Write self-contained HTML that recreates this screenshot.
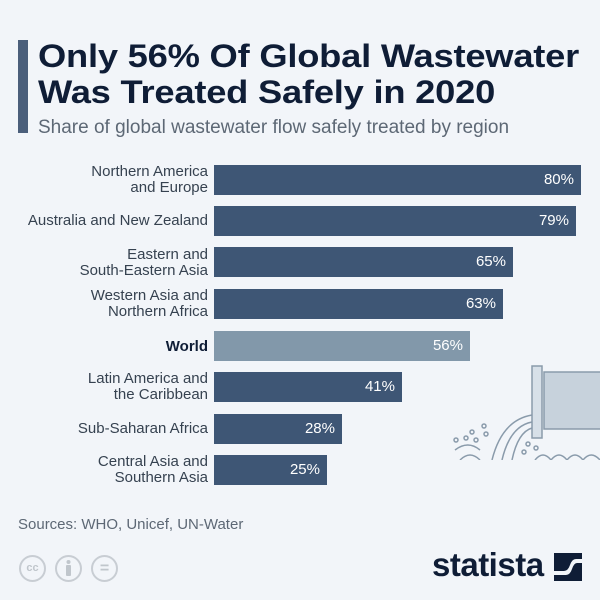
<!DOCTYPE html>
<html><head><meta charset="utf-8"><style>
*{margin:0;padding:0;box-sizing:border-box}
body{width:600px;height:600px;background:#f2f5f9;position:relative;overflow:hidden;font-family:"Liberation Sans",sans-serif}
.abs{position:absolute}
.t{left:38px;color:#0f1d36;font-weight:bold;font-size:32px;letter-spacing:-0.2px;line-height:38px;transform:scaleX(1.135);transform-origin:left center;white-space:nowrap}
.lab{position:absolute;right:392px;text-align:right;color:#364250;font-size:15px;line-height:16px;width:230px}
.bar{position:absolute;left:214px;height:30px;background:#3e5675;color:#fff;font-size:15px;text-align:right;padding-right:7px;line-height:30px}
</style></head><body>
<div class="abs" style="left:18px;top:40px;width:10px;height:93px;background:#4b5f7b"></div>
<div class="abs t" style="top:37px">Only 56% Of Global Wastewater</div>
<div class="abs t" style="top:73px">Was Treated Safely in 2020</div>
<div class="abs" style="left:38px;top:117px;font-size:19px;color:#5d6875;white-space:nowrap">Share of global wastewater flow safely treated by region</div>

<div class="lab" style="top:164px">Northern America<br>and Europe</div>
<div class="bar" style="top:165px;width:367px">80%</div>
<div class="lab" style="top:213px">Australia and New Zealand</div>
<div class="bar" style="top:206px;width:362px">79%</div>
<div class="lab" style="top:247px">Eastern and<br>South-Eastern Asia</div>
<div class="bar" style="top:247px;width:299px">65%</div>
<div class="lab" style="top:288px">Western Asia and<br>Northern Africa</div>
<div class="bar" style="top:289px;width:289px">63%</div>
<div class="lab" style="top:339px;font-weight:bold;color:#0f1d36">World</div>
<div class="bar" style="top:331px;width:256px;background:#8298aa">56%</div>
<div class="lab" style="top:371px">Latin America and<br>the Caribbean</div>
<div class="bar" style="top:372px;width:188px">41%</div>
<div class="lab" style="top:421px">Sub-Saharan Africa</div>
<div class="bar" style="top:414px;width:128px">28%</div>
<div class="lab" style="top:454px">Central Asia and<br>Southern Asia</div>
<div class="bar" style="top:455px;width:113px">25%</div>

<svg class="abs" style="left:440px;top:360px" width="160" height="100" viewBox="0 0 160 100">
<g fill="none" stroke="#8a9bab" stroke-width="1.5">
<rect x="104" y="12" width="60" height="57" fill="#c7d2dc"/>
<rect x="92" y="6" width="10" height="72" fill="#d7e0e8"/>
<path d="M92 55 Q62 60 52 100 M92 62 Q70 66 62 100 M92 68 Q78 72 72 100"/>
<path d="M20 100 Q30 90 40 100 M15 90 Q28 80 40 90 M95 100 q8 -10 16 0 q8 -10 16 0 q8 -10 16 0 q8-10 17 0"/>
<circle cx="16" cy="80" r="2"/><circle cx="26" cy="78" r="2"/><circle cx="32" cy="72" r="2"/><circle cx="36" cy="80" r="2"/><circle cx="44" cy="66" r="2"/><circle cx="46" cy="74" r="2"/><circle cx="84" cy="92" r="2"/><circle cx="96" cy="88" r="2"/><circle cx="88" cy="84" r="2"/>
</g></svg>

<div class="abs" style="left:18px;top:516px;font-size:15px;color:#5d6875">Sources: WHO, Unicef, UN-Water</div>
<div class="abs" style="left:19px;top:555px;width:27px;height:27px;border:2px solid #c8cdd3;border-radius:50%;color:#c0c6cc;font-size:11px;font-weight:bold;text-align:center;line-height:23px">cc</div>
<div class="abs" style="left:55px;top:555px;width:27px;height:27px;border:2px solid #c8cdd3;border-radius:50%"><svg width="23" height="23" viewBox="0 0 23 23"><circle cx="11.5" cy="5" r="2" fill="#c0c6cc"/><rect x="9" y="8" width="5" height="11" rx="1" fill="#c0c6cc"/></svg></div>
<div class="abs" style="left:91px;top:555px;width:27px;height:27px;border:2px solid #c8cdd3;border-radius:50%;color:#c0c6cc;font-size:16px;font-weight:bold;text-align:center;line-height:23px">=</div>

<div class="abs" style="left:432px;top:546px;font-size:33px;font-weight:bold;color:#0f1d36;letter-spacing:-0.5px">statista</div>
<svg class="abs" style="left:554px;top:553px" width="28" height="28" viewBox="0 0 28 28"><rect width="28" height="28" fill="#0f1d36"/><path d="M0 18 L10 18 Q14 18 16 12 Q18 6 22 6 L28 6 L28 10 L23 10 Q20 10 18 16 Q16 22 12 22 L0 22Z" fill="#f2f5f9"/></svg>
</body></html>
